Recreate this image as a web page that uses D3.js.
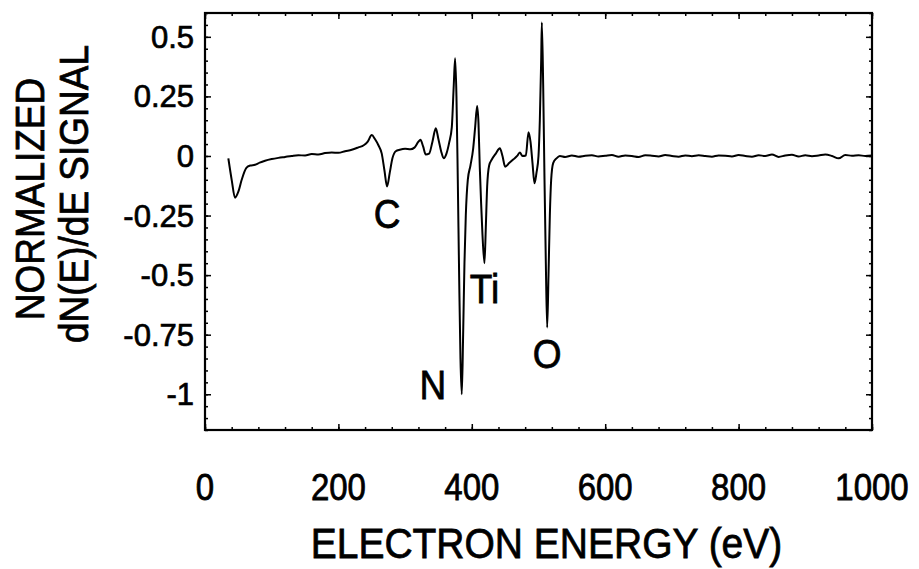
<!DOCTYPE html>
<html><head><meta charset="utf-8">
<script src="https://cdn.jsdelivr.net/npm/d3@7"></script>
<style>
html,body{margin:0;padding:0;background:#fff;}
svg{display:block;font-family:"Liberation Sans",Arial,Helvetica,sans-serif;}
</style></head>
<body>
<svg id="chart" width="919" height="569"></svg>
<script>
// Data
const energy = [35,40,45,50,55,62,68,75,82,90,100,110,120,130,140,150,160,170,180,190,200,210,220,230,238,244,250,255,260,265,269,273,277,281,286,292,300,308,314,320,323,327,331,336,341,346,350,354,358,362,366,370,373,375,377,379,381,383,385,387,389,391,394,398,402,405,408,410,412,414,416,419,421,423,426,430,436,442,446,450,456,462,468,472,476,481,485,488,491,494,497,500,502,504,505,507,509,511,513,515,517,519,522,527,532,540,550,560,570,580,590,600,610,620,630,640,650,660,670,680,690,700,710,720,730,740,750,760,770,780,790,800,810,820,830,840,850,860,870,880,890,900,910,920,930,940,950,960,970,980,990,1000];
const signal = [-0.01,-0.10,-0.175,-0.15,-0.10,-0.05,-0.04,-0.037,-0.028,-0.02,-0.013,-0.008,-0.004,0.0,0.003,0.002,0.008,0.006,0.012,0.015,0.013,0.02,0.026,0.036,0.045,0.06,0.088,0.07,0.045,0.01,-0.06,-0.128,-0.07,-0.01,0.02,0.026,0.03,0.028,0.035,0.06,0.068,0.04,0.006,0.01,0.06,0.116,0.07,0.02,-0.01,0.01,0.055,0.12,0.3,0.41,0.25,-0.1,-0.5,-0.85,-1.0,-0.75,-0.45,-0.25,-0.1,-0.04,0.03,0.12,0.21,0.14,-0.05,-0.2,-0.33,-0.45,-0.3,-0.13,-0.04,-0.015,0.01,0.032,0.0,-0.045,-0.03,-0.015,0.0,0.015,0.0,0.002,0.1,0.06,-0.03,-0.115,-0.07,0.0,0.15,0.4,0.56,0.3,-0.1,-0.45,-0.72,-0.5,-0.25,-0.1,-0.03,-0.01,0.0,-0.004,0.002,-0.003,0.001,0.003,-0.002,0.001,0.004,-0.003,0.002,0.0,-0.004,0.003,0.001,-0.002,0.004,0.0,-0.003,0.002,-0.001,0.003,0.0,-0.003,0.002,0.001,-0.002,0.004,0.0,-0.003,0.003,0.0,0.006,-0.004,0.002,0.005,-0.002,0.003,-0.001,0.002,0.006,0.0,-0.01,0.004,0.001,0.003,0.0,0.002];
const xTicks = [0,200,400,600,800,1000];
const yTicks = [0.5,0.25,0,-0.25,-0.5,-0.75,-1];
const yTickLabels = ["0.5","0.25","0","-0.25","-0.5","-0.75","-1"];
const peakLabels = ["C","N","Ti","O"];
const peakEnergy = [273,385,419,513];
const peakValue = [-0.128,-1.0,-0.45,-0.72];
const xTitle = "ELECTRON ENERGY (eV)";
const yTitle = ["NORMALIZED","dN(E)/dE SIGNAL"];

const svg = d3.select("#chart");
const L=205, R=872, T=13, B=430;
const x = d3.scaleLinear().domain([0,1000]).range([L,R]);
const y = d3.scaleLinear().domain([-1.15,0.6]).range([B,T]);

// minor/major ticks on all four sides (inward)
const xMinor = d3.range(0,1001,40);
const yMinor = d3.range(-115,61,5).map(v=>v/100);
svg.append("g").attr("transform",`translate(0,${B})`).call(d3.axisBottom(x).tickValues(xMinor).tickSize(-3).tickFormat(""));
svg.append("g").attr("transform",`translate(0,${T})`).call(d3.axisTop(x).tickValues(xMinor).tickSize(-3).tickFormat(""));
svg.append("g").attr("transform",`translate(${L},0)`).call(d3.axisLeft(y).tickValues(yMinor).tickSize(-3).tickFormat(""));
svg.append("g").attr("transform",`translate(${R},0)`).call(d3.axisRight(y).tickValues(yMinor).tickSize(-3).tickFormat(""));
svg.append("g").attr("transform",`translate(0,${B})`).call(d3.axisBottom(x).tickValues(xTicks).tickSize(-6).tickFormat(""));
svg.append("g").attr("transform",`translate(0,${T})`).call(d3.axisTop(x).tickValues(xTicks).tickSize(-6).tickFormat(""));
svg.append("g").attr("transform",`translate(${L},0)`).call(d3.axisLeft(y).tickValues(yTicks).tickSize(-6).tickFormat(""));
svg.append("g").attr("transform",`translate(${R},0)`).call(d3.axisRight(y).tickValues(yTicks).tickSize(-6).tickFormat(""));
svg.selectAll(".domain").remove();
svg.selectAll(".tick line").attr("stroke","#000").attr("stroke-width",1.5);

svg.append("rect").attr("x",L).attr("y",T).attr("width",R-L).attr("height",B-T)
  .attr("fill","none").attr("stroke","#000").attr("stroke-width",2.2);

// spectrum
const pts = energy.map((e,i)=>[e,signal[i]]);
svg.append("path").datum(pts)
  .attr("fill","none").attr("stroke","#000").attr("stroke-width",2)
  .attr("stroke-linejoin","round")
  .attr("d", d3.line().x(d=>x(d[0])).y(d=>y(d[1])).curve(d3.curveMonotoneX));

// helper for vertically stretched text
function txt(xp, yp, s, size, anchor, sy, rot){
  const t = svg.append("text").text(s).attr("font-size",size).attr("text-anchor",anchor)
    .attr("fill","#000").attr("stroke","#000").attr("stroke-width",0.7);
  t.attr("transform",`translate(${xp},${yp})${rot?` rotate(${rot})`:""} scale(1,${sy})`);
  return t;
}

// tick labels
xTicks.forEach(v=>txt(x(v), 500, String(v), 33, "middle", 1.1));
yTicks.forEach((v,i)=>txt(194, y(v)+11, yTickLabels[i], 31, "end", 1.0));

// titles
txt((L+R)/2+8, 558, xTitle, 39, "middle", 1.08);
txt(44, 199, yTitle[0], 37, "middle", 1.1, -90);
txt(88, 194, yTitle[1], 37, "middle", 1.1, -90);

// peak labels
const lblDx = [0,-29,0,0];
const lblY = [228,399,303,368];
peakLabels.forEach((s,i)=>{
  txt(x(peakEnergy[i])+lblDx[i], lblY[i], s, 37, "middle", 1.08);
});
</script>
</body></html>
